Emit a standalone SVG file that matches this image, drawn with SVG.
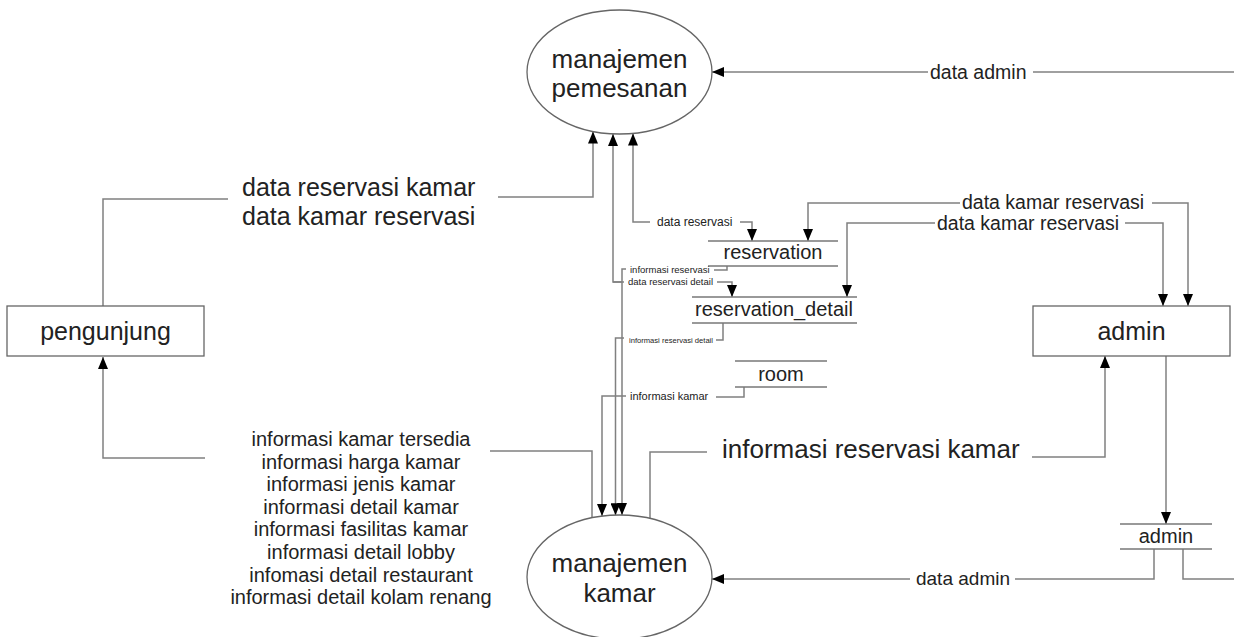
<svg xmlns="http://www.w3.org/2000/svg" width="1234" height="637" viewBox="0 0 1234 637">
<defs>
<marker id="arr" viewBox="0 0 12 10" refX="12" refY="5" markerWidth="12" markerHeight="10" markerUnits="userSpaceOnUse" orient="auto">
<path d="M0,0 L12,5 L0,10 z" fill="#000"/>
</marker>
<marker id="tick" viewBox="0 0 5 5" refX="5" refY="2.5" markerWidth="5" markerHeight="5" markerUnits="userSpaceOnUse" orient="auto">
<path d="M0,0 L5,2.5 L0,5" fill="none" stroke="#555" stroke-width="1"/>
</marker>
</defs>
<style>
.shape{fill:#fff;stroke:#666;stroke-width:1.3}
.store{stroke:#777;stroke-width:1.5}
.c{fill:none;stroke:#808080;stroke-width:1.5}
.a{marker-end:url(#arr)}
.t{marker-end:url(#tick)}
text{font-family:"Liberation Sans",Arial,sans-serif;fill:#222}
.big{font-size:26px}
.mid{font-size:20px}
.c20{text-anchor:middle}
</style>
<rect width="1234" height="637" fill="#fff"/>

<g id="connectors">
<polyline class="c a" points="928,72 712,72"/>
<polyline class="c" points="1033,72 1234,72"/>
<polyline class="c" points="103,306 103,199 228,199"/>
<polyline class="c a" points="498,197 593,197 593,131.5"/>
<polyline class="c a" points="622,282 613,282 613,134"/>
<polyline class="c a" points="650,222 633,222 633,133.5"/>
<polyline class="c a" points="740,222 752,222 752,241"/>
<polyline class="c" points="613,282 624,282"/>
<polyline class="c a" points="717,282 732,282 732,297"/>
<polyline class="c a" points="960,203 808,203 808,241"/>
<polyline class="c a" points="1152,203 1188,203 1188,306"/>
<polyline class="c a" points="935,223 847,223 847,297"/>
<polyline class="c a" points="1125,223 1163,223 1163,306"/>
<polyline class="c" points="727,266 727,270 714,270"/>
<polyline class="c a" points="626,269 622,269 622,515"/>
<polyline class="c" points="723,323 723,340 716,340"/>
<polyline class="c a" points="624,338 615.5,338 615.5,515.2"/>
<polyline class="c" points="744,387 744,397 716,397"/>
<polyline class="c a" points="626,396 602,396 602,516"/>
<polyline class="c" points="490,451 592,451 592,517.8"/>
<polyline class="c a" points="205,458 103,458 103,357"/>
<polyline class="c" points="650,518.5 650,452 707,452"/>
<polyline class="c a" points="1032,457 1105,457 1105,356"/>
<polyline class="c a" points="1166,356 1166,524"/>
<polyline class="c" points="1154,549 1154,579 1015,579"/>
<polyline class="c a" points="910,579 712,579"/>
<polyline class="c" points="1183,549 1183,579 1234,579"/>
</g>

<g id="manajemen-pemesanan">
<ellipse class="shape" cx="619.5" cy="72" rx="92.5" ry="62"/>
<text class="big c20" x="619.5" y="68">manajemen</text>
<text class="big c20" x="619.5" y="97">pemesanan</text>
</g>

<g id="manajemen-kamar">
<ellipse class="shape" cx="619.5" cy="577" rx="92.5" ry="62"/>
<text class="big c20" x="619.5" y="572">manajemen</text>
<text class="big c20" x="619.5" y="602">kamar</text>
</g>

<g id="pengunjung">
<rect class="shape" x="7" y="306" width="197" height="50"/>
<text class="c20" x="105.5" y="340" font-size="25">pengunjung</text>
</g>

<g id="admin">
<rect class="shape" x="1033" y="306" width="197" height="50"/>
<text class="c20" x="1131.5" y="340" font-size="25">admin</text>
</g>

<g id="store-reservation">
<line class="store" x1="708" y1="241" x2="838" y2="241"/>
<line class="store" x1="708" y1="266" x2="838" y2="266"/>
<text class="mid c20" x="773" y="259">reservation</text>
</g>

<g id="store-reservation-detail">
<line class="store" x1="692" y1="297" x2="857" y2="297"/>
<line class="store" x1="692" y1="323" x2="857" y2="323"/>
<text class="mid c20" x="774" y="316">reservation_detail</text>
</g>

<g id="store-room">
<line class="store" x1="735" y1="361" x2="827" y2="361"/>
<line class="store" x1="735" y1="387" x2="827" y2="387"/>
<text class="mid c20" x="781" y="381">room</text>
</g>

<g id="store-admin">
<line class="store" x1="1120" y1="524" x2="1212" y2="524"/>
<line class="store" x1="1120" y1="549" x2="1212" y2="549"/>
<text class="mid c20" x="1166" y="543">admin</text>
</g>

<g id="labels">
<text x="930" y="79" font-size="19.5">data admin</text>
<text x="242" y="196" font-size="25">data reservasi kamar</text>
<text x="242" y="225" font-size="25">data kamar reservasi</text>
<text x="657" y="226" font-size="12">data reservasi</text>
<text x="962" y="209" font-size="19.5">data kamar reservasi</text>
<text x="937" y="230" font-size="19.5">data kamar reservasi</text>
<text x="630" y="273" font-size="9.5">informasi reservasi</text>
<text x="628" y="285" font-size="9.5">data reservasi detail</text>
<text x="629" y="343" font-size="7.6">informasi reservasi detail</text>
<text x="630" y="400" font-size="11">informasi kamar</text>
<text class="big" x="722" y="458">informasi reservasi kamar</text>
<text x="1010" y="585" font-size="19" text-anchor="end">data admin</text>
<g font-size="20" text-anchor="middle">
<text x="361" y="446">informasi kamar tersedia</text>
<text x="361" y="468.6">informasi harga kamar</text>
<text x="361" y="491.2">informasi jenis kamar</text>
<text x="361" y="513.8">informasi detail kamar</text>
<text x="361" y="536.4">informasi fasilitas kamar</text>
<text x="361" y="559">informasi detail lobby</text>
<text x="361" y="581.6">infomasi detail restaurant</text>
<text x="361" y="604.2">informasi detail kolam renang</text>
</g>
</g>
</svg>
